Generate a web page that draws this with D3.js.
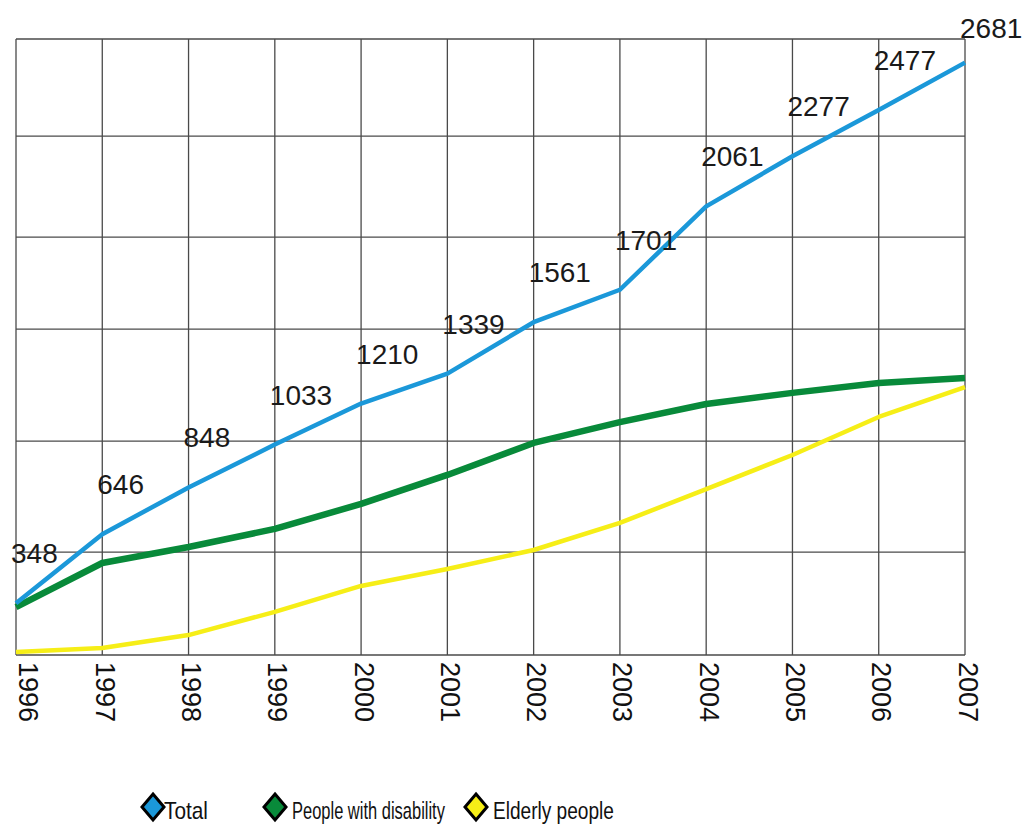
<!DOCTYPE html>
<html>
<head>
<meta charset="utf-8">
<script src="https://cdn.jsdelivr.net/npm/d3@7"></script>
<style>
  body { margin: 0; background: #fff; }
  svg { display: block; }
</style>
</head>
<body>
<svg id="chart" width="1024" height="825"></svg>
<script>
// data
const years = [1996, 1997, 1998, 1999, 2000, 2001, 2002, 2003, 2004, 2005, 2006, 2007];
const total = [348, 646, 848, 1033, 1210, 1339, 1561, 1701, 2061, 2277, 2477, 2681];
const disability = [332, 522, 591, 669, 777, 902, 1040, 1130, 1208, 1256, 1299, 1320];
const elderly = [138, 155, 211, 311, 423, 496, 578, 695, 841, 988, 1152, 1281];
const gridValues = [125, 569, 1048, 1531, 1928, 2364, 2783];

const seriesNames = ["Total", "People with disability", "Elderly people"];
const seriesColors = ["#1b98d9", "#088a3a", "#f6ee17"];

const plotLeft = 16, plotRight = 965, plotTop = 39, plotBottom = 655;

const svg = d3.select("#chart");

const x = d3.scaleLinear()
    .domain(d3.extent(years))
    .range([plotLeft, plotRight]);

const y = d3.scaleLinear()
    .domain([125, 2783])
    .range([plotBottom, plotTop]);

// grid
const grid = svg.append("g")
    .attr("stroke", "#4a4a4a")
    .attr("stroke-width", 1.3)
    .attr("fill", "none");

grid.selectAll("line.v")
  .data(years)
  .join("line")
    .attr("class", "v")
    .attr("x1", d => x(d)).attr("x2", d => x(d))
    .attr("y1", plotTop).attr("y2", plotBottom);

grid.selectAll("line.h")
  .data(gridValues)
  .join("line")
    .attr("class", "h")
    .attr("x1", plotLeft).attr("x2", plotRight)
    .attr("y1", d => y(d)).attr("y2", d => y(d));

// year labels, rotated
svg.append("g")
    .style("font", "27px 'Liberation Sans', Arial, sans-serif")
    .attr("fill", "#111")
  .selectAll("text")
  .data(years)
  .join("text")
    .attr("transform", d => `translate(${x(d) + (d === 1996 ? 12 : 3)},${plotBottom + 7}) rotate(90)`)
    .attr("dy", "0.35em")
    .text(d => d);

// lines
const series = [
    {name: seriesNames[0], values: total, color: seriesColors[0], w: 4.5},
    {name: seriesNames[1], values: disability, color: seriesColors[1], w: 6.5},
    {name: seriesNames[2], values: elderly, color: seriesColors[2], w: 4.5}
];

const line = d3.line()
    .x((d, i) => x(years[i]))
    .y(d => y(d));

svg.append("g")
  .selectAll("path")
  .data(series.slice().reverse())
  .join("path")
    .attr("fill", "none")
    .attr("stroke", d => d.color)
    .attr("stroke-width", d => d.w)
    .attr("stroke-linejoin", "round")
    .attr("d", d => line(d.values));

// value labels on the total line
svg.append("g")
    .style("font", "28px 'Liberation Sans', Arial, sans-serif")
    .attr("fill", "#1a1a1a")
  .selectAll("text")
  .data(total)
  .join("text")
    .attr("x", (d, i) => x(years[i]) - 5)
    .attr("y", d => Math.max(y(d) - 40, 38))
    .text(d => d);

// legend
const legendX = [153, 275, 476];
const legendW = [44, 153, 121];
const lg = svg.append("g")
  .selectAll("g")
  .data(series)
  .join("g")
    .attr("transform", (d, i) => `translate(${legendX[i]},807)`);

lg.append("path")
    .attr("d", "M0,-13L11,0L0,13L-11,0Z")
    .attr("fill", d => d.color)
    .attr("stroke", "#000")
    .attr("stroke-width", 3)
    .attr("stroke-linejoin", "miter");

// squeeze the legend text to the narrow widths of the original
lg.append("text")
    .attr("y", 12)
    .style("font", "24px 'Liberation Sans Narrow', 'Liberation Sans', Arial, sans-serif")
    .attr("fill", "#111")
    .text(d => d.name)
    .attr("transform", function(d, i) {
        const k = legendW[i] / this.getComputedTextLength();
        return `translate(${i === 0 ? 11 : 17},0) scale(${k},1)`;
    });
</script>
</body>
</html>
